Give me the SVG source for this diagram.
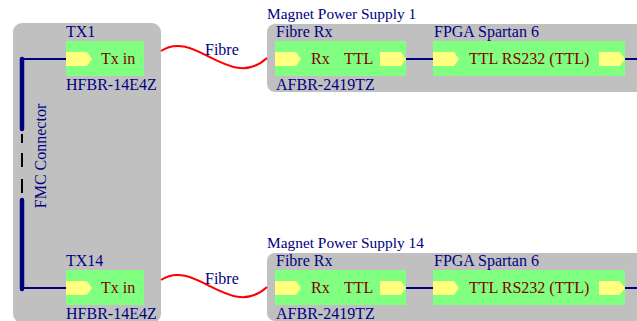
<svg xmlns="http://www.w3.org/2000/svg" width="637" height="321" viewBox="0 0 637 321">
<style>
text{font-family:"Liberation Serif","Times New Roman",serif;font-size:16px}
.lb{fill:#000080}
.in{fill:#800000}
.gray{fill:#C0C0C0}
.green{fill:#80FF80}
.arr{fill:#FFFF80}
.wire{stroke:#000080;stroke-width:2;fill:none}
.bus{stroke:#000080;stroke-width:4.5;stroke-linecap:round}
.dash{stroke:#000000;stroke-width:2}
.fibre{stroke:#FF0000;stroke-width:2;fill:none}
</style>
<defs>
<polygon id="pa" points="0,0 21,0 26,7 21,14 0,14" class="arr"/>
</defs>
<g id="fmc-board">
<rect x="13" y="23" width="148" height="300" rx="9" class="gray"/>
<text class="lb" transform="translate(46,156) rotate(-90)" text-anchor="middle">FMC Connector</text>
</g>
<g id="tx1">
<text class="lb" x="66" y="37">TX1</text>
<rect x="66" y="41" width="78" height="35" class="green"/>
<use href="#pa" x="66" y="52"/>
<text class="in" x="101" y="64">Tx in</text>
<text class="lb" x="66" y="90">HFBR-14E4Z</text>
</g>
<g id="tx14">
<text class="lb" x="66" y="266">TX14</text>
<rect x="66" y="270" width="78" height="35" class="green"/>
<use href="#pa" x="66" y="281"/>
<text class="in" x="101" y="293">Tx in</text>
<text class="lb" x="66" y="319">HFBR-14E4Z</text>
</g>
<g id="mps1">
<text class="lb" x="267" y="19" style="font-size:15.4px">Magnet Power Supply 1</text>
<rect x="267" y="24" width="390" height="68" rx="8" class="gray"/>
<g id="rx1">
<text class="lb" x="276" y="37">Fibre Rx</text>
<rect x="275" y="41" width="131" height="35" class="green"/>
<use href="#pa" x="275" y="52"/>
<text class="in" x="311" y="64">Rx</text>
<text class="in" x="344" y="64">TTL</text>
<use href="#pa" x="380" y="52"/>
<text class="lb" x="276" y="90">AFBR-2419TZ</text>
</g>
<g id="fpga1">
<text class="lb" x="434" y="37">FPGA Spartan 6</text>
<rect x="433" y="41" width="192" height="35" class="green"/>
<use href="#pa" x="433" y="52"/>
<text class="in" x="469" y="64">TTL RS232 (TTL)</text>
<use href="#pa" x="599" y="52"/>
</g>
</g>
<g id="mps14">
<text class="lb" x="267" y="248" style="font-size:15.4px">Magnet Power Supply 14</text>
<rect x="267" y="253" width="390" height="68" rx="8" class="gray"/>
<g id="rx14">
<text class="lb" x="276" y="266">Fibre Rx</text>
<rect x="275" y="270" width="131" height="35" class="green"/>
<use href="#pa" x="275" y="281"/>
<text class="in" x="311" y="293">Rx</text>
<text class="in" x="344" y="293">TTL</text>
<use href="#pa" x="380" y="281"/>
<text class="lb" x="276" y="319">AFBR-2419TZ</text>
</g>
<g id="fpga14">
<text class="lb" x="434" y="266">FPGA Spartan 6</text>
<rect x="433" y="270" width="192" height="35" class="green"/>
<use href="#pa" x="433" y="281"/>
<text class="in" x="469" y="293">TTL RS232 (TTL)</text>
<use href="#pa" x="599" y="281"/>
</g>
</g>
<g id="connectors">
<line x1="22" y1="59" x2="22" y2="129" class="bus"/>
<line x1="22" y1="200" x2="22" y2="289" class="bus"/>
<line x1="22" y1="134" x2="22" y2="143" class="dash"/>
<line x1="22" y1="153" x2="22" y2="167" class="dash"/>
<line x1="22" y1="179" x2="22" y2="193" class="dash"/>
<path class="wire" d="M22,59 H66"/>
<path class="wire" d="M22,288 H66"/>
<path class="fibre" d="M161,51 C195,28 230,92 267,58"/>
<path class="fibre" d="M161,280 C195,257 230,321 267,287"/>
<text class="lb" x="205" y="55">Fibre</text>
<text class="lb" x="205" y="284">Fibre</text>
<path class="wire" d="M406,59 H433"/>
<path class="wire" d="M625,59 H637"/>
<path class="wire" d="M406,288 H433"/>
<path class="wire" d="M625,288 H637"/>
</g>
</svg>
